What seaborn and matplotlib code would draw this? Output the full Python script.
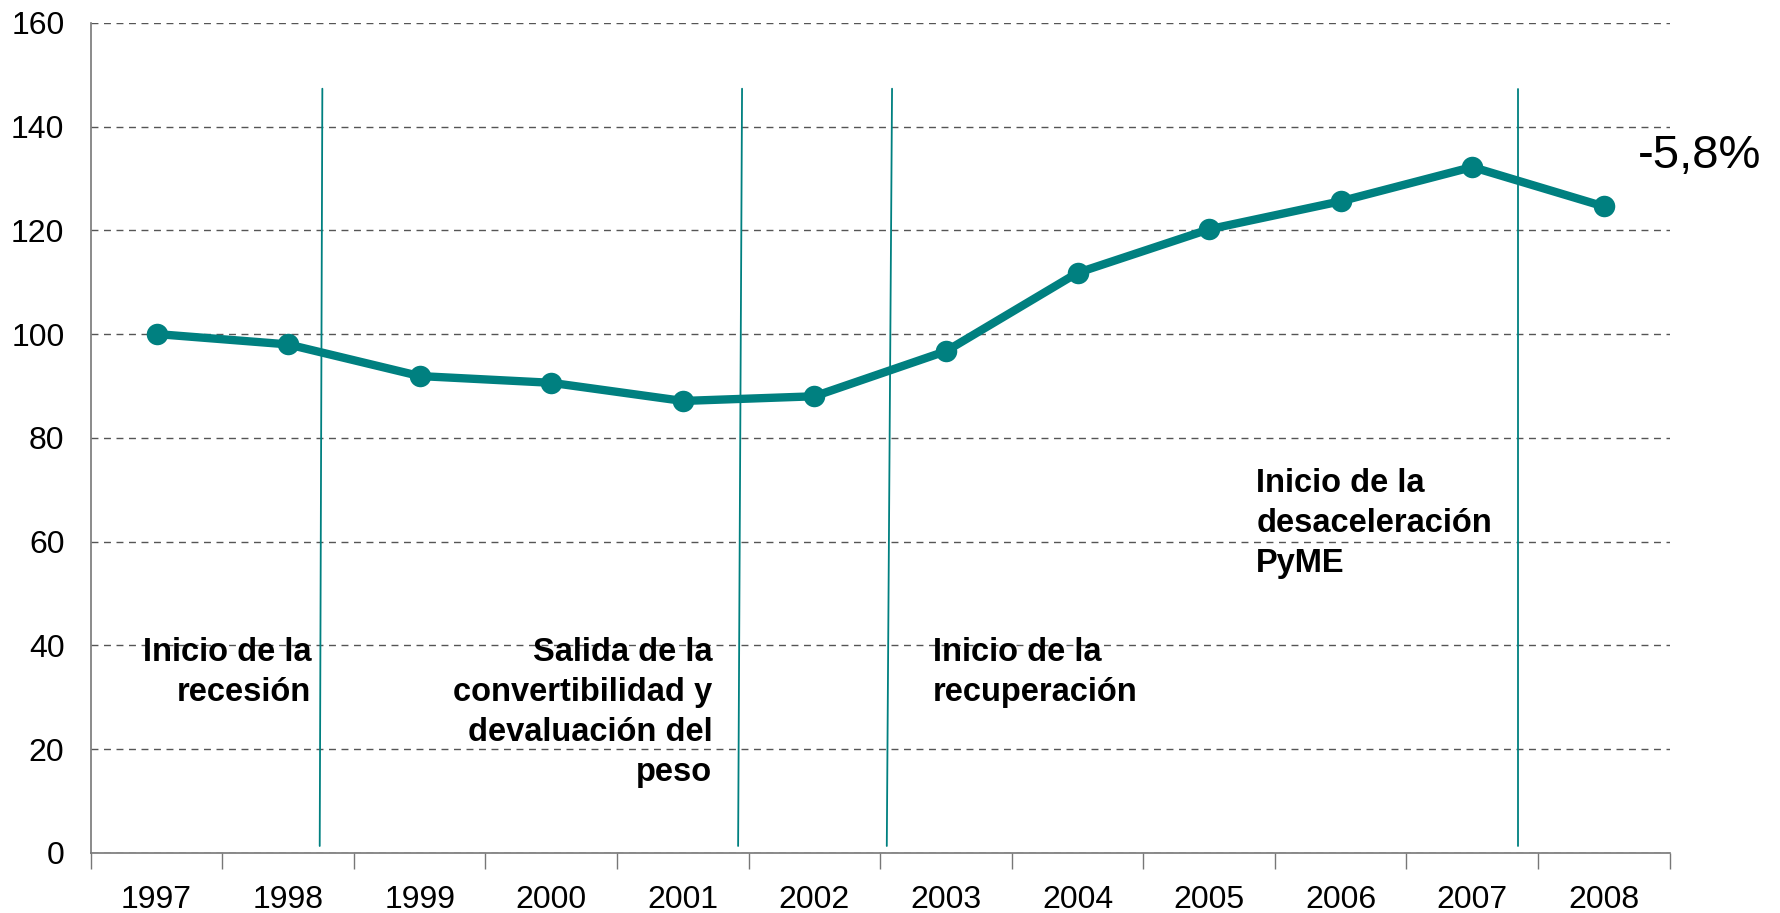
import pandas as pd
import matplotlib.pyplot as plt
from matplotlib.ticker import FixedLocator, NullFormatter
import seaborn as sns

# Datos (indice 1997 = 100)
years = ['1997', '1998', '1999', '2000', '2001', '2002',
         '2003', '2004', '2005', '2006', '2007', '2008']
index_values = [100.0, 98.0, 91.9, 90.6, 87.1, 88.0,
                 96.7, 111.8, 120.2, 125.6, 132.2, 124.6]

# Hitos (posicion en unidades de categoria, arriba y abajo)
event_x_top = [1.26, 4.45, 5.59, 10.35]
event_x_bottom = [1.24, 4.42, 5.55, 10.35]
event_y = [1.3, 147.3]

event_labels = ['Inicio de la\nrecesión',
                'Salida de la\nconvertibilidad y\ndevaluación del\npeso',
                'Inicio de la\nrecuperación',
                'Inicio de la\ndesaceleración\nPyME']
last_change = '-5,8%'

teal = '#008080'

sns.set_style('white')
plt.rcParams['font.family'] = ['Liberation Sans', 'DejaVu Sans']
plt.rcParams['text.color'] = 'black'
plt.rcParams['xtick.color'] = 'black'
plt.rcParams['ytick.color'] = 'black'

data = pd.DataFrame({'Año': years, 'Indice': index_values})

fig = plt.figure(figsize=(17.8, 9.13), dpi=100)
ax = fig.add_axes([0.051, 0.066, 0.887, 0.909])

# Lineas verticales de los hitos
for xt, xb in zip(event_x_top, event_x_bottom):
    ax.plot([xb, xt], event_y, color=teal, lw=1.3, zorder=2)

sns.lineplot(data=data, x='Año', y='Indice', color=teal, lw=6,
             marker='o', markersize=15.5, markeredgewidth=0, ax=ax, zorder=3)

ax.set_xlim(-0.5, 11.5)
ax.set_ylim(0, 160)
ax.set_yticks(range(0, 161, 20))
ax.yaxis.grid(True, linestyle=(0, (5, 4)), color='#555555', lw=1.0)
ax.set_axisbelow(True)

ax.xaxis.set_major_locator(FixedLocator(range(12)))
ax.set_xticklabels(years)
ax.xaxis.set_minor_locator(FixedLocator([i - 0.5 for i in range(13)]))
ax.xaxis.set_minor_formatter(NullFormatter())
ax.tick_params(axis='x', which='major', length=0, pad=23, labelsize=23)
ax.tick_params(axis='x', which='minor', length=11.5, width=1, color='#777777',
               direction='out', bottom=True)
ax.tick_params(axis='y', length=0, pad=19, labelsize=23)

for side in ['top', 'right']:
    ax.spines[side].set_visible(False)
for side in ['left', 'bottom']:
    ax.spines[side].set_color('#777777')
    ax.spines[side].set_linewidth(1.2)

ax.set_xlabel('')
ax.set_ylabel('')

# Textos de los hitos
txt = dict(fontsize=23.5, fontweight='bold', va='top', linespacing=1.37)
ax.text(1.174, 41.5, event_labels[0], ha='right', multialignment='right', **txt)
ax.text(4.223, 41.5, event_labels[1], ha='right', multialignment='right', **txt)
ax.text(5.898, 41.5, event_labels[2], ha='left', **txt)
ax.text(8.359, 74.2, event_labels[3], ha='left', **txt)

ax.text(11.26, 134.4, last_change, fontsize=34, ha='left', va='center', clip_on=False)

plt.savefig('out.png', dpi=100)
plt.close()
